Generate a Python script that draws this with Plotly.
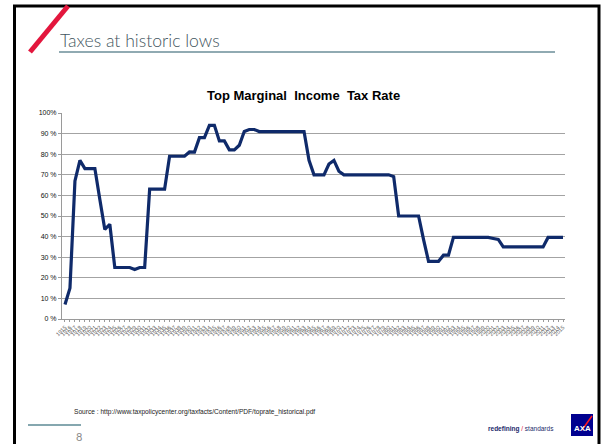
import plotly.graph_objects as go

years = list(range(1915, 2016))
rates = [
    7, 15, 67, 77, 73, 73, 73, 58, 43.5, 46,          # 1915-1924
    25, 25, 25, 25, 24, 25, 25, 63, 63, 63,           # 1925-1934
    63, 79, 79, 79, 79, 81.1, 81, 88, 88, 94,         # 1935-1944
    94, 86.45, 86.45, 82.13, 82.13, 84.36, 91, 92, 92, 91,  # 1945-1954
    91, 91, 91, 91, 91, 91, 91, 91, 91, 77,           # 1955-1964
    70, 70, 70, 75.25, 77, 71.75, 70, 70, 70, 70,     # 1965-1974
    70, 70, 70, 70, 70, 70, 69.13, 50, 50, 50,        # 1975-1984
    50, 50, 38.5, 28, 28, 28, 31, 31, 39.6, 39.6,     # 1985-1994
    39.6, 39.6, 39.6, 39.6, 39.6, 39.6, 39.1, 38.6, 35, 35,  # 1995-2004
    35, 35, 35, 35, 35, 35, 35, 39.6, 39.6, 39.6,     # 2005-2014
    39.6,                                             # 2015
]
y_ticks = [0, 10, 20, 30, 40, 50, 60, 70, 80, 90, 100]
y_labels = ["0 %", "10 %", "20 %", "30 %", "40 %", "50 %", "60 %", "70 %", "80 %", "90 %", "100%"]

# plot area in pixels
L, R, T, B = 62, 565, 113, 319
W, H = 602, 444


def px(x):
    return (x - L) / (R - L)


def py(y):
    return (B - y) / (B - T)


fig = go.Figure()
fig.add_trace(go.Scatter(
    x=years, y=rates, mode="lines",
    line=dict(color="#0f2a6a", width=3.2),
    hoverinfo="skip", showlegend=False,
))

shapes = [
    # outer frame
    dict(type="rect", xref="paper", yref="paper",
         x0=px(14.5), x1=px(599), y0=py(6), y1=py(470),
         line=dict(color="#000000", width=3), layer="above"),
    # red slash
    dict(type="line", xref="paper", yref="paper",
         x0=px(30), y0=py(52), x1=px(68), y1=py(6),
         line=dict(color="#e3163d", width=5)),
    # header underline
    dict(type="line", xref="paper", yref="paper",
         x0=px(59), y0=py(52), x1=px(555), y1=py(52),
         line=dict(color="#6b8e98", width=1.3)),
    # footer short line
    dict(type="line", xref="paper", yref="paper",
         x0=px(28), y0=py(425), x1=px(81), y1=py(425),
         line=dict(color="#5d8a94", width=1.3)),
    # AXA logo box
    dict(type="rect", xref="paper", yref="paper",
         x0=px(571), x1=px(593), y0=py(414), y1=py(436),
         fillcolor="#00008f", line=dict(width=0)),
    dict(type="line", xref="paper", yref="paper",
         x0=px(582), y0=py(430), x1=px(592), y1=py(416),
         line=dict(color="#ff1721", width=1.5)),
]

annotations = [
    dict(text="Taxes at historic lows", xref="paper", yref="paper",
         x=px(58), y=py(41), xanchor="left", yanchor="middle", showarrow=False,
         font=dict(family="Lato, Open Sans, sans-serif", size=17.6, color="#435660", weight=300)),
    dict(text="<b>Top Marginal  Income  Tax Rate</b>", xref="paper", yref="paper",
         x=px(303), y=py(95), xanchor="center", yanchor="middle", showarrow=False,
         font=dict(family="Liberation Sans, Arial, sans-serif", size=13, color="#000000")),
    dict(text="Source : http://www.taxpolicycenter.org/taxfacts/Content/PDF/toprate_historical.pdf",
         xref="paper", yref="paper", x=px(72), y=py(412), xanchor="left", yanchor="middle",
         showarrow=False, font=dict(family="Liberation Sans, Arial, sans-serif", size=6.6, color="#222222")),
    dict(text="8", xref="paper", yref="paper", x=px(79), y=py(436), xanchor="center",
         yanchor="middle", showarrow=False,
         font=dict(family="Lato, sans-serif", size=11, color="#8a8a8a")),
    dict(text="<b>redefining</b> <span style='color:#e3163d'>/</span> standards", xref="paper", yref="paper",
         x=px(556), y=py(429), xanchor="right", yanchor="middle", showarrow=False,
         font=dict(family="Liberation Sans, Arial, sans-serif", size=6.5, color="#1b2a6b")),
    dict(text="<b>AXA</b>", xref="paper", yref="paper", x=px(582), y=py(428), xanchor="center",
         yanchor="middle", showarrow=False,
         font=dict(family="Liberation Sans, Arial, sans-serif", size=8, color="#ffffff")),
]

fig.update_layout(
    width=W, height=H,
    margin=dict(l=L, r=W - R, t=T, b=H - B, pad=0),
    paper_bgcolor="#ffffff", plot_bgcolor="#ffffff",
    shapes=shapes, annotations=annotations,
    showlegend=False,
    xaxis=dict(
        range=[1914.4, 2015.4], tickmode="array", tickvals=years,
        ticktext=[str(y) for y in years], tickangle=-45,
        tickfont=dict(family="Liberation Sans, Arial, sans-serif", size=5.5, color="#555555"),
        showgrid=False, zeroline=False, showline=True, linecolor="#9a9a9a", linewidth=1,
        ticks="outside", ticklen=2, tickcolor="#9a9a9a", fixedrange=True,
    ),
    yaxis=dict(
        range=[0, 100], tickmode="array", tickvals=y_ticks, ticktext=y_labels,
        tickfont=dict(family="Liberation Sans, Arial, sans-serif", size=7, color="#111111"),
        showgrid=True, gridcolor="#a3a3a3", gridwidth=1, zeroline=False,
        showline=True, linecolor="#9a9a9a", linewidth=1,
        ticks="outside", ticklen=3, tickcolor="#9a9a9a", fixedrange=True,
    ),
)

fig.write_html("out.html")
